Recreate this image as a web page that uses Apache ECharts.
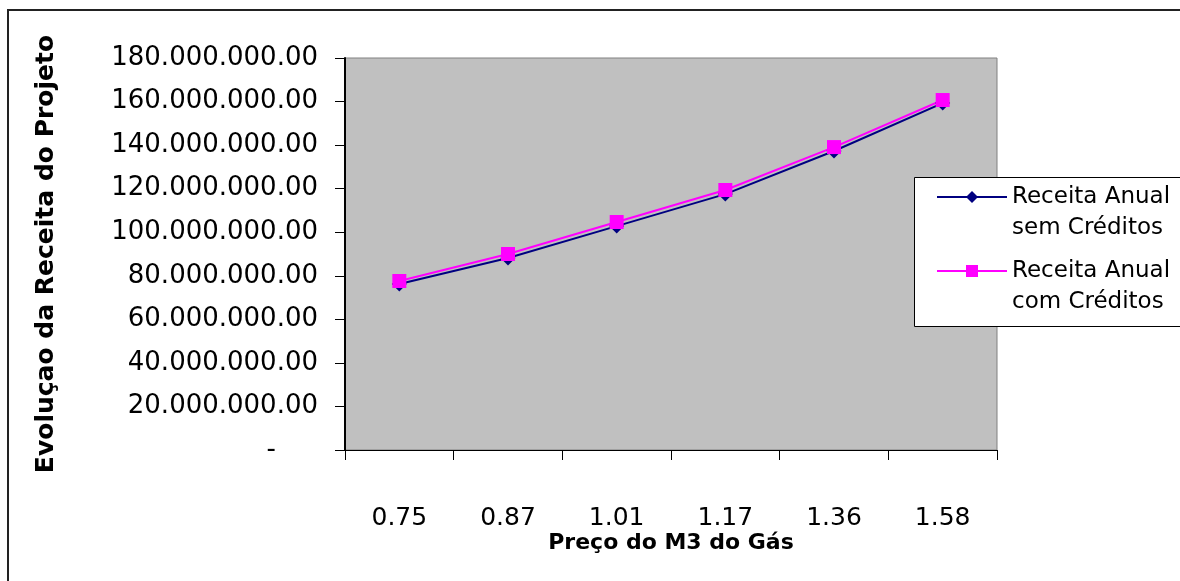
<!DOCTYPE html>
<html>
<head>
<meta charset="utf-8">
<script src="https://cdn.jsdelivr.net/npm/echarts@6/dist/echarts.min.js"></script>
<style>html,body{margin:0;padding:0;background:#fff;}#c{width:1180px;height:581px;}</style>
</head>
<body>
<div id="c"></div>
<script>
const categories = ['0.75', '0.87', '1.01', '1.17', '1.36', '1.58'];
const receitaSemCreditos = [76200000, 88200000, 102800000, 117500000, 137300000, 159300000];
const receitaComCreditos = [77600000, 90000000, 104700000, 119400000, 139100000, 160700000];
const seriesNames = ['Receita Anual\nsem Créditos', 'Receita Anual\ncom Créditos'];
const xAxisTitle = 'Preço do M3 do Gás';
const yAxisTitle = 'Evoluçao da Receita do Projeto';

const FONT = 'DejaVu Sans';
function fmt(v) {
  if (v === 0) return '{d|-}';
  return String(Math.round(v)).replace(/\B(?=(\d{3})+(?!\d))/g, '.') + '.00';
}

const chart = echarts.init(document.getElementById('c'), null, {renderer: 'canvas'});
const legendText = {fontFamily: FONT, fontSize: 23, color: '#000', lineHeight: 31};
const legendFmt = name => ' \n' + name;
chart.setOption({
  animation: false,
  backgroundColor: '#fff',
  grid: {left: 345, right: 183, top: 58, bottom: 131, show: true, backgroundColor: '#C0C0C0', borderColor: '#808080', borderWidth: 1},
  xAxis: {
    type: 'category', data: categories, boundaryGap: true,
    name: xAxisTitle, nameLocation: 'middle', nameGap: 82, nameMoveOverlap: false,
    nameTextStyle: {fontFamily: FONT, fontWeight: 'bold', fontSize: 22, color: '#000'},
    axisLine: {lineStyle: {color: '#000', width: 1}},
    axisTick: {show: true, alignWithLabel: false, length: 10, lineStyle: {color: '#000'}},
    axisLabel: {fontFamily: FONT, fontSize: 25, color: '#000', margin: 56},
    splitLine: {show: false}
  },
  yAxis: {
    type: 'value', min: 0, max: 180000000, interval: 20000000,
    name: yAxisTitle, nameLocation: 'middle', nameGap: 286, nameRotate: 90, nameMoveOverlap: false,
    nameTextStyle: {fontFamily: FONT, fontWeight: 'bold', fontSize: 25, color: '#000'},
    axisLine: {show: true, lineStyle: {color: '#000', width: 2}},
    axisTick: {show: true, length: 10, lineStyle: {color: '#000'}},
    axisLabel: {fontFamily: FONT, fontSize: 26, color: '#000', margin: 27, formatter: fmt,
      rich: {d: {fontFamily: FONT, fontSize: 26, color: '#000', padding: [0, 42, 0, 0]}}},
    splitLine: {show: false}
  },
  legend: [
    {data: [seriesNames[0]], left: 936, top: 150.5, orient: 'vertical', padding: 0, itemWidth: 70, itemHeight: 15, textStyle: legendText, formatter: legendFmt},
    {data: [seriesNames[1]], left: 936, top: 224.5, orient: 'vertical', padding: 0, itemWidth: 70, itemHeight: 15, textStyle: legendText, formatter: legendFmt}
  ],
  graphic: [
    {type: 'rect', z: 3, shape: {x: 914.5, y: 177.5, width: 300, height: 149}, style: {fill: '#fff', stroke: '#000', lineWidth: 1}},
    {type: 'rect', z: 10, shape: {x: 8, y: 10, width: 1200, height: 620}, style: {fill: 'none', stroke: '#222', lineWidth: 2}}
  ],
  series: [
    {name: seriesNames[0], type: 'line', data: receitaSemCreditos, symbol: 'diamond', symbolSize: 15,
      lineStyle: {color: '#000080', width: 2}, itemStyle: {color: '#000080'}},
    {name: seriesNames[1], type: 'line', data: receitaComCreditos, symbol: 'rect', symbolSize: 14,
      lineStyle: {color: '#FF00FF', width: 2}, itemStyle: {color: '#FF00FF'}}
  ]
});
</script>
</body>
</html>
